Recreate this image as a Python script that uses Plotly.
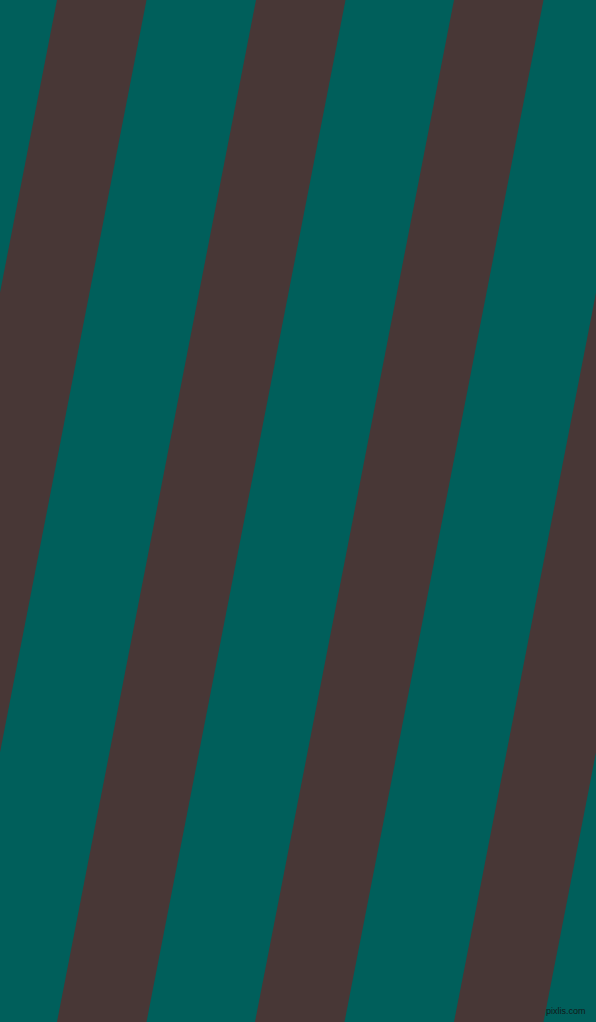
import plotly.graph_objects as go

# stripe data (x of each stripe's left edge along the top row)
stripe_top_left = [57, 256, 454, 653]
stripe_width = 89.5      # horizontal width of a brown band
stripe_shift = 199       # how far a band moves left from top to bottom
img_w, img_h = 596, 1022

teal = "#005F5B"
brown = "#483736"

fig = go.Figure()

# one filled polygon per brown band
for x0 in stripe_top_left:
    xs = [x0, x0 + stripe_width, x0 + stripe_width - stripe_shift, x0 - stripe_shift, x0]
    ys = [0, 0, img_h, img_h, 0]
    fig.add_trace(go.Scatter(x=xs, y=ys, mode='lines', fill='toself',
                             fillcolor=brown, line=dict(width=0, color=brown),
                             hoverinfo='skip', showlegend=False))

# small watermark bottom right
fig.add_annotation(x=588, y=1011, text="pixlis.com", showarrow=False,
                   xanchor='right', yanchor='middle',
                   font=dict(family="Liberation Sans Narrow, Liberation Sans", size=9, color="#101818"))

fig.update_layout(width=img_w, height=img_h, autosize=False,
                  margin=dict(l=0, r=0, t=0, b=0),
                  paper_bgcolor=teal, plot_bgcolor=teal)
fig.update_xaxes(range=[0, img_w], visible=False, fixedrange=True)
fig.update_yaxes(range=[img_h, 0], visible=False, fixedrange=True)

# drop the page's default 8px body margin so the plot fills the window
fig.write_html("out.html", config={'displayModeBar': False},
               post_script="document.body.style.margin='0';document.body.style.overflow='hidden';")
